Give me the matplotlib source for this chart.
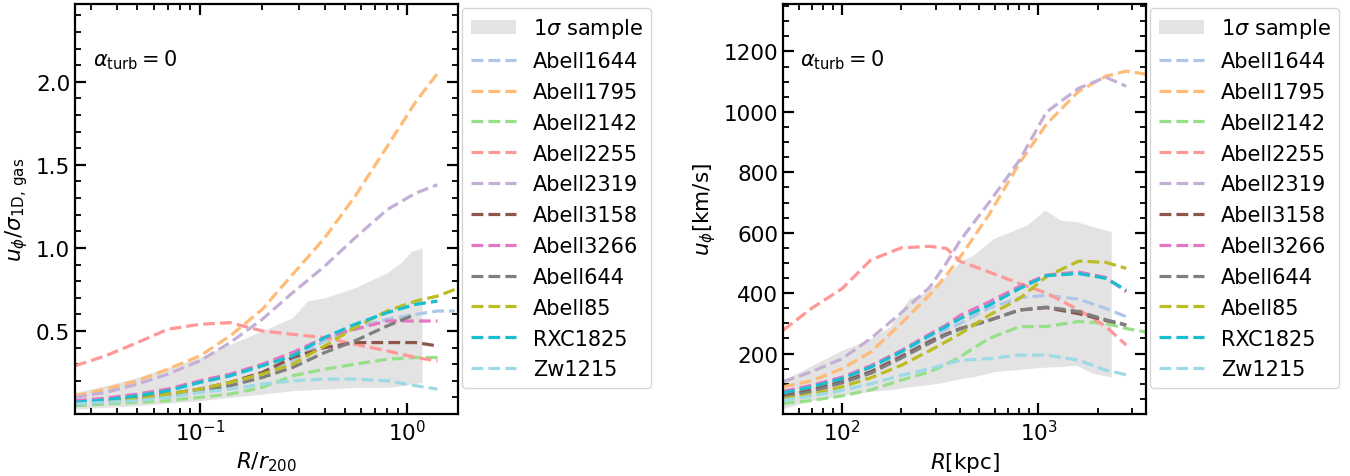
import matplotlib
matplotlib.use('Agg')
import matplotlib.pyplot as plt
import numpy as np
from matplotlib.ticker import MultipleLocator

names = ["Abell1644", "Abell1795", "Abell2142", "Abell2255", "Abell2319", "Abell3158",
         "Abell3266", "Abell644", "Abell85", "RXC1825", "Zw1215"]
colors = ["#aec7e8", "#ffbb78", "#98df8a", "#ff9896", "#c5b0d5", "#8c564b",
          "#e377c2", "#7f7f7f", "#bcbd22", "#17becf", "#9edae5"]

# left panel: u_phi / sigma_1D,gas vs R/r200
r_norm = [0.025, 0.035, 0.05, 0.07, 0.1, 0.14, 0.2, 0.28, 0.4, 0.56, 0.8, 1.1, 1.4, 1.7]
ratio = {
    "Abell1644": [0.07, 0.085, 0.10, 0.12, 0.15, 0.19, 0.25, 0.32, 0.44, 0.52, 0.57, 0.60, 0.62, 0.62],
    "Abell1795": [0.11, 0.15, 0.20, 0.27, 0.35, 0.47, 0.63, 0.84, 1.06, 1.31, 1.61, 1.88, 2.05, None],
    "Abell2142": [0.05, 0.06, 0.07, 0.08, 0.10, 0.12, 0.16, 0.23, 0.27, 0.30, 0.33, 0.34, 0.34, None],
    "Abell2255": [0.29, 0.35, 0.43, 0.51, 0.54, 0.55, 0.50, 0.48, 0.46, 0.42, 0.38, 0.34, 0.32, None],
    "Abell2319": [0.10, 0.13, 0.18, 0.24, 0.32, 0.43, 0.57, 0.73, 0.89, 1.06, 1.23, 1.33, 1.38, None],
    "Abell3158": [0.07, 0.08, 0.10, 0.12, 0.15, 0.19, 0.25, 0.34, 0.40, 0.43, 0.43, 0.43, 0.41, None],
    "Abell3266": [0.08, 0.095, 0.12, 0.15, 0.20, 0.24, 0.30, 0.37, 0.46, 0.51, 0.56, 0.56, 0.56, None],
    "Abell644":  [0.06, 0.07, 0.09, 0.11, 0.14, 0.17, 0.22, 0.28, 0.37, 0.44, 0.53, 0.60, None, None],
    "Abell85":   [0.065, 0.075, 0.09, 0.12, 0.15, 0.19, 0.24, 0.30, 0.41, 0.52, 0.62, 0.68, 0.71, 0.75],
    "RXC1825":   [0.07, 0.085, 0.11, 0.14, 0.19, 0.23, 0.29, 0.35, 0.46, 0.54, 0.61, 0.66, 0.68, None],
    "Zw1215":    [0.06, 0.07, 0.08, 0.10, 0.13, 0.15, 0.18, 0.20, 0.21, 0.21, 0.20, 0.17, 0.15, None],
}
band_r_norm = [0.025, 0.035, 0.05, 0.07, 0.1, 0.14, 0.2, 0.28, 0.33, 0.4, 0.56, 0.8, 0.95, 1.05, 1.18]
band_lo_norm = [0.03, 0.04, 0.05, 0.065, 0.08, 0.10, 0.12, 0.14, 0.145, 0.15, 0.16, 0.16, 0.17, 0.18, 0.19]
band_hi_norm = [0.13, 0.17, 0.22, 0.28, 0.34, 0.42, 0.50, 0.58, 0.68, 0.70, 0.76, 0.85, 0.92, 0.98, 1.0]

# right panel: u_phi [km/s] vs R [kpc]
r_kpc = [50, 70, 100, 140, 200, 280, 340, 400, 560, 800, 1100, 1600, 2200, 2800, 3500]
uphi = {
    "Abell1644": [60, 80, 105, 140, 195, 245, 280, 300, 350, 385, 393, 380, 350, 322, None],
    "Abell1795": [90, 110, 150, 205, 300, 395, 460, 520, 660, 830, 960, 1068, 1118, 1135, 1125],
    "Abell2142": [35, 45, 60, 80, 112, 140, 165, 190, 250, 289, 290, 306, 300, 283, 272],
    "Abell2255": [277, 350, 415, 510, 550, 555, 548, 505, 470, 432, 400, 345, 290, 228, None],
    "Abell2319": [107, 140, 183, 250, 335, 420, 500, 575, 700, 840, 1000, 1078, 1115, 1085, None],
    "Abell3158": [60, 80, 107, 140, 190, 240, 265, 283, 310, 344, 352, 332, 310, 294, None],
    "Abell3266": [75, 95, 122, 160, 210, 265, 295, 327, 371, 422, 460, 470, 452, 405, None],
    "Abell644":  [55, 75, 103, 135, 185, 235, 262, 281, 310, 344, 354, 339, 312, 295, None],
    "Abell85":   [50, 65, 90, 120, 161, 210, 240, 266, 327, 382, 455, 506, 502, 482, None],
    "RXC1825":   [70, 90, 117, 155, 206, 260, 290, 316, 360, 415, 458, 465, 449, 410, None],
    "Zw1215":    [45, 60, 78, 100, 128, 150, 165, 178, 183, 195, 195, 178, 145, 130, None],
}
band_r_kpc = [50, 70, 100, 140, 175, 220, 260, 330, 400, 465, 590, 870, 1080, 1290, 1560, 1900, 2350]
band_lo_kpc = [18, 45, 62, 75, 80, 90, 95, 105, 117, 123, 140, 150, 155, 157, 161, 134, 123]
band_hi_kpc = [112, 160, 211, 250, 289, 382, 400, 449, 505, 526, 581, 625, 675, 642, 637, 620, 604]


def to_arr(vals):
    return np.array([np.nan if v is None else v for v in vals], dtype=float)


def style_axis(ax):
    ax.tick_params(which='both', direction='in', top=True, right=True, labelsize=15.5)
    ax.tick_params(which='major', length=8, width=1.6)
    ax.tick_params(which='minor', length=4.5, width=1.3)
    for sp in ax.spines.values():
        sp.set_linewidth(1.6)


def main():
    fig = plt.figure(figsize=(13.5, 4.77), dpi=100)
    ax1 = fig.add_axes([0.0556, 0.130, 0.2837, 0.860])
    ax2 = fig.add_axes([0.580, 0.130, 0.2689, 0.860])

    panels = [
        (ax1, r_norm, ratio, band_r_norm, band_lo_norm, band_hi_norm),
        (ax2, r_kpc, uphi, band_r_kpc, band_lo_kpc, band_hi_kpc),
    ]
    for ax, xs, ys, bx, blo, bhi in panels:
        ax.fill_between(bx, blo, bhi, color='#e3e3e3', lw=0, label=r'$1\sigma$ sample')
        for name, c in zip(names, colors):
            ax.plot(xs, to_arr(ys[name]), ls='--', lw=2.3, color=c, label=name)
        ax.set_xscale('log')
        style_axis(ax)
        ax.text(0.047, 0.85, r'$\alpha_{\rm turb}=0$', transform=ax.transAxes, fontsize=15)
        ax.legend(loc='upper left', bbox_to_anchor=(1.0, 1.0), fontsize=15,
                  handlelength=2.2, labelspacing=0.52, borderaxespad=0.2)

    ax1.set_xlim(0.025, 1.76)
    ax1.set_ylim(0.0, 2.47)
    ax1.yaxis.set_major_locator(MultipleLocator(0.5))
    ax1.yaxis.set_minor_locator(MultipleLocator(0.1))
    ax1.set_yticks([0.5, 1.0, 1.5, 2.0])
    ax1.set_xlabel(r'$R/r_{200}$', fontsize=15.5)
    ax1.set_ylabel(r'$u_\phi/\sigma_{\rm 1D,\,gas}$', fontsize=15.5)

    ax2.set_xlim(50, 3530)
    ax2.set_ylim(0, 1358)
    ax2.yaxis.set_major_locator(MultipleLocator(200))
    ax2.yaxis.set_minor_locator(MultipleLocator(50))
    ax2.set_yticks([200, 400, 600, 800, 1000, 1200])
    ax2.set_xlabel(r'$R[\rm kpc]$', fontsize=15.5)
    ax2.set_ylabel(r'$u_\phi[\rm km/s]$', fontsize=15.5)

    fig.savefig('out.png', dpi=100)


if __name__ == '__main__':
    main()
